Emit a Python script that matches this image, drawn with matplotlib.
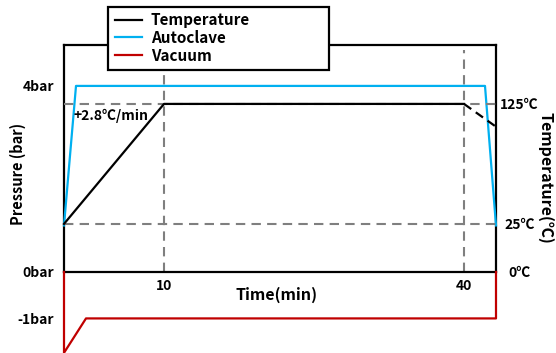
import numpy as np
import matplotlib
matplotlib.use("Agg")
import matplotlib.pyplot as plt
from matplotlib.patches import Rectangle

plt.rcParams["font.family"] = ["Noto Sans CJK KR", "DejaVu Sans"]
plt.rcParams["font.weight"] = "bold"

# Cure cycle profile
temp_time = [0, 10, 40]
temp_values = [25, 125, 125]
cool_time = [40, 43.2]
cool_values = [125, 106]

autoclave_time = [0, 1.2, 42.1, 43.2]
autoclave_bar = [1.0, 4.0, 4.0, 1.0]

vacuum_time = [0, 0, 2.2, 43.2, 43.2]
vacuum_bar = [0, -1.74, -1.0, -1.0, 0]

pressure_ticks = [4, 0, -1]
pressure_labels = ["4bar", "0bar", "-1bar"]
temp_ticks = [125, 25, 0]
temp_labels = ["125℃", "25℃", "0℃"]
time_ticks = [10, 40]
time_labels = ["10", "40"]

W, H = 556, 353
PX_PER_BAR = 46.5
P_TOP, P_BOT = 4.88, -1.80
T_END = 43.2

# temperature axis is stretched between 25 and 125 (piecewise linear)
T_KNOTS = np.array([0.0, 25.0, 125.0])
P_KNOTS = np.array([0.0, 48 / PX_PER_BAR, 168 / PX_PER_BAR])


def temp_fwd(t):
    t = np.asarray(t, dtype=float)
    lo = (P_KNOTS[1] - P_KNOTS[0]) / (T_KNOTS[1] - T_KNOTS[0])
    hi = (P_KNOTS[2] - P_KNOTS[1]) / (T_KNOTS[2] - T_KNOTS[1])
    out = np.interp(t, T_KNOTS, P_KNOTS)
    out = np.where(t < T_KNOTS[0], P_KNOTS[0] + (t - T_KNOTS[0]) * lo, out)
    out = np.where(t > T_KNOTS[2], P_KNOTS[2] + (t - T_KNOTS[2]) * hi, out)
    return out


def temp_inv(p):
    p = np.asarray(p, dtype=float)
    lo = (T_KNOTS[1] - T_KNOTS[0]) / (P_KNOTS[1] - P_KNOTS[0])
    hi = (T_KNOTS[2] - T_KNOTS[1]) / (P_KNOTS[2] - P_KNOTS[1])
    out = np.interp(p, P_KNOTS, T_KNOTS)
    out = np.where(p < P_KNOTS[0], T_KNOTS[0] + (p - P_KNOTS[0]) * lo, out)
    out = np.where(p > P_KNOTS[2], T_KNOTS[2] + (p - P_KNOTS[2]) * hi, out)
    return out


fig = plt.figure(figsize=(W / 100, H / 100), dpi=100)
ax_left, ax_right, ax_top = 64, 496, 45
ax_h = (P_TOP - P_BOT) * PX_PER_BAR
ax = fig.add_axes([ax_left / W, 1 - (ax_top + ax_h) / H,
                   (ax_right - ax_left) / W, ax_h / H])
ax.set_xlim(0, T_END)
ax.set_ylim(P_BOT, P_TOP)

frame_lw = 1.6
gray = "#7f7f7f"
dash = (0, (4.5, 3))

ax2 = ax.twinx()
ax2.set_yscale("function", functions=(temp_fwd, temp_inv))
ax2.set_ylim(float(temp_inv(P_BOT)), float(temp_inv(P_TOP)))
for s in ax2.spines.values():
    s.set_visible(False)

# guide lines
for t in time_ticks:
    ax.plot([t, t], [0, 4.77], color=gray, lw=1.5, ls=dash, zorder=1)
for tv in [25, 125]:
    ax2.plot([0, T_END], [tv, tv], color=gray, lw=1.5, ls=dash, zorder=1)

l_auto, = ax.plot(autoclave_time, autoclave_bar, color="#00b0f0", lw=1.6,
                  clip_on=False, zorder=3)
l_vac, = ax.plot(vacuum_time, vacuum_bar, color="#c00000", lw=1.6,
                 clip_on=False, zorder=3)
l_temp, = ax2.plot(temp_time, temp_values, color="black", lw=1.6,
                   clip_on=False, zorder=3)
ax2.plot(cool_time, cool_values, color="black", lw=1.6, ls=(0, (4, 2.5)),
         clip_on=False, zorder=3)

# frame
ax.spines["bottom"].set_position(("data", 0))
ax.spines["left"].set_bounds(0, P_TOP)
ax.spines["right"].set_bounds(0, P_TOP)
for s in ax.spines.values():
    s.set_linewidth(frame_lw)
    s.set_color("black")

ax.set_yticks(pressure_ticks)
ax.set_yticklabels(pressure_labels, fontsize=10)
ax.set_xticks(time_ticks)
ax.set_xticklabels(time_labels, fontsize=10)
ax.tick_params(axis="y", length=0, pad=7)
ax.tick_params(axis="x", length=0, pad=5)

ax2.set_yticks(temp_ticks)
ax2.set_yticklabels(temp_labels, fontsize=10)
ax2.tick_params(axis="y", length=0, pad=17)
for lab in ax2.get_yticklabels():
    lab.set_horizontalalignment("center")
ax2.minorticks_off()

ax.text(0.95, 3.35, "+2.8℃/min", fontsize=10, ha="left", va="center")

fig.text(18 / W, 1 - 174 / H, "Pressure (bar)", rotation=90, fontsize=10.5,
         ha="center", va="center")
fig.text(546 / W, 1 - 178 / H, "Temperature(℃)", rotation=-90, fontsize=11.5,
         ha="center", va="center")
fig.text(277 / W, 1 - 295 / H, "Time(min)", fontsize=11.5,
         ha="center", va="center")

# legend box sits over the top of the frame
box = Rectangle((108 / W, 1 - 70 / H), (329 - 108) / W, 63 / H,
                transform=fig.transFigure, facecolor="white",
                edgecolor="black", linewidth=frame_lw, zorder=5)
fig.patches.append(box)
leg = fig.legend([l_temp, l_auto, l_vac], ["Temperature", "Autoclave", "Vacuum"],
                 loc="upper left", bbox_to_anchor=(115 / W, 1 - 12 / H),
                 frameon=False, fontsize=11, handlelength=1.75,
                 handletextpad=0.6, borderpad=0, labelspacing=0.12,
                 borderaxespad=0)
leg.set_zorder(6)

fig.savefig("out.png", dpi=100)
